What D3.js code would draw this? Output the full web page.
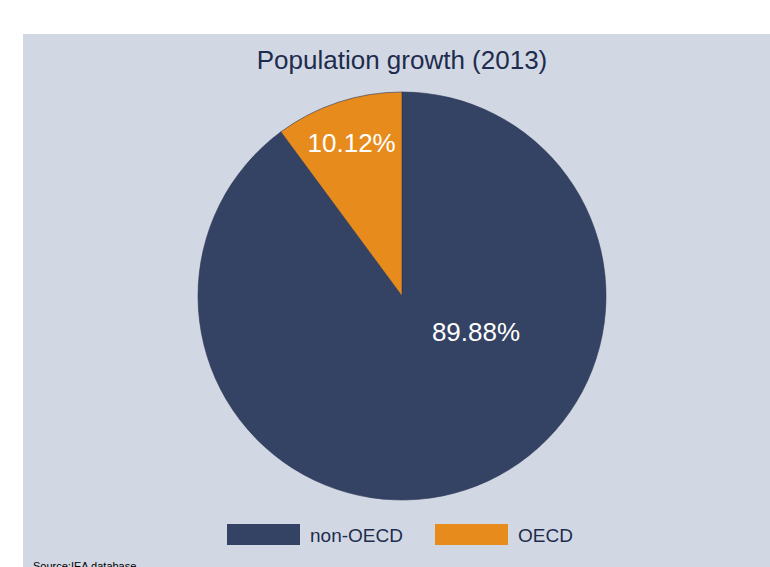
<!DOCTYPE html>
<html>
<head>
<meta charset="utf-8">
<script src="https://cdn.jsdelivr.net/npm/d3@7"></script>
<style>
  html, body { margin: 0; padding: 0; background: #fff; }
  svg { display: block; font-family: "Liberation Sans", Arial, sans-serif; }
</style>
</head>
<body>
<div id="chart"></div>
<script>
const WIDTH  = 770;
const HEIGHT = 567;

const categories = ["non-OECD", "OECD"];
const values     = [89.88, 10.12];
const colors     = ["#344263", "#e68b1c"];
const title      = "Population growth (2013)";
const source     = "Source:IEA database";

const svg = d3.select("#chart")
  .append("svg")
  .attr("width", WIDTH)
  .attr("height", HEIGHT);

// panel background
svg.append("rect")
  .attr("x", 23).attr("y", 34)
  .attr("width", WIDTH - 23).attr("height", HEIGHT - 34)
  .attr("fill", "#d2d8e3");

svg.append("text")
  .attr("x", 402).attr("y", 69)
  .attr("text-anchor", "middle")
  .attr("font-size", 26)
  .attr("fill", "#1e2c4e")
  .text(title);

// pie
const cx = 402, cy = 296, R = 204;
const color = d3.scaleOrdinal().domain(categories).range(colors);

const pie = d3.pie().sort(null).value(d => d.value);
const data = pie(categories.map((c, i) => ({ name: c, value: values[i] })));
const arc = d3.arc().innerRadius(0).outerRadius(R);

const g = svg.append("g").attr("transform", `translate(${cx},${cy})`);

g.selectAll("path")
  .data(data)
  .join("path")
  .attr("d", arc)
  .attr("fill", d => color(d.data.name))
  .attr("stroke", "#2b3858")
  .attr("stroke-width", 0.6);

// labels: small slice at 0.79R along mid angle, big slice offset toward centre-right
const labelPos = d => {
  if (d.data.value < 50) {
    const a = (d.startAngle + d.endAngle) / 2;
    const r = R * 0.79;
    return [r * Math.sin(a), -r * Math.cos(a)];
  }
  return [74, 36];
};

g.selectAll("text.plabel")
  .data(data)
  .join("text")
  .attr("class", "plabel")
  .attr("x", d => labelPos(d)[0])
  .attr("y", d => labelPos(d)[1])
  .attr("dy", "0.35em")
  .attr("text-anchor", "middle")
  .attr("font-size", 26)
  .attr("fill", "#fff")
  .text(d => d.data.value.toFixed(2) + "%");

// legend
const legendX = d3.scalePoint().domain(categories).range([227, 435]);
const lg = svg.append("g").selectAll("g")
  .data(categories)
  .join("g")
  .attr("transform", d => `translate(${legendX(d)},524)`);

lg.append("rect")
  .attr("width", 73).attr("height", 21)
  .attr("fill", d => color(d));

lg.append("text")
  .attr("x", 83).attr("y", 11)
  .attr("dy", "0.35em")
  .attr("font-size", 19)
  .attr("fill", "#1e2c4e")
  .text(d => d);

svg.append("text")
  .attr("x", 33).attr("y", 570)
  .attr("font-size", 11)
  .attr("fill", "#000")
  .text(source);
</script>
</body>
</html>
